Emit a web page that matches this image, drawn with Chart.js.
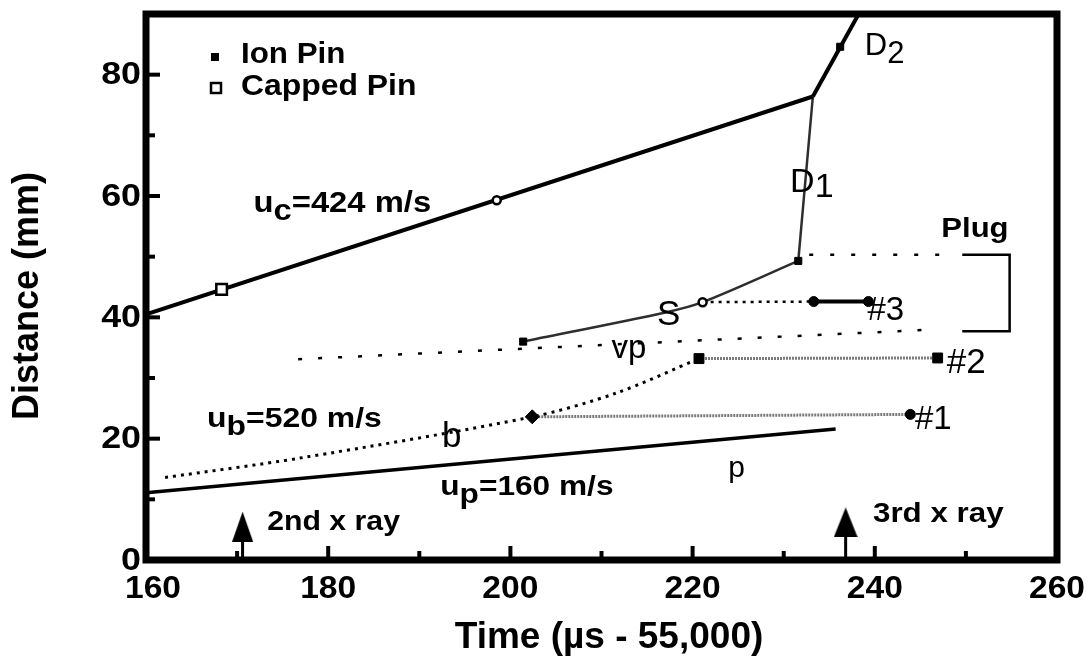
<!DOCTYPE html>
<html>
<head>
<meta charset="utf-8">
<script src="https://cdn.jsdelivr.net/npm/chart.js@4.4.1/dist/chart.umd.min.js"></script>
<style>
  html, body { margin: 0; padding: 0; background: #fff; }
  #wrap { width: 1090px; height: 660px; }
</style>
</head>
<body>
<div id="wrap"><canvas id="chart" width="1090" height="660"></canvas></div>
<script>
const ink = '#000';
const grey = '#7a7a7a';
const wavy = '#2e2e2e';
const FONT = '"Liberation Sans", Arial, Helvetica, sans-serif';

// axes
const xTicks = [160, 180, 200, 220, 240, 260];
const xMinor = [170, 190, 210, 230, 250];
const yTicks = [0, 20, 40, 60, 80];
const yMinor = [10, 30, 50, 70];

// trajectories (time in us - 55,000 ; distance in mm)
const ucTime = [160, 233.2];
const ucDist = [40.5, 76.4];
const d2Time = [233.2, 238.6];
const d2Dist = [76.4, 91.0];
const d1Time = [231.6, 233.2];
const d1Dist = [49.3, 76.4];
const sTime = [201.4, 217.0, 221.1, 231.6];
const sDist = [36.0, 40.8, 42.5, 49.3];
const bTime = [162.1, 176.9, 202.4, 211.6, 220.7];
const bDist = [13.6, 16.8, 23.6, 27.5, 33.2];
const pTime = [160, 235.7];
const pDist = [11.1, 21.6];
const vpTime = [176.7, 246.6];
const vpDist = [33.1, 38.0];
const plugTopTime = [232.8, 247.1];
const plugTopDist = [50.3, 50.3];
const probe1Time = [202.4, 243.9];
const probe1Dist = [23.6, 24.0];
const probe2Time = [220.7, 246.9];
const probe2Dist = [33.2, 33.3];
const probe3DotTime = [221.1, 233.3];
const probe3DotDist = [42.5, 42.6];
const probe3Time = [233.3, 239.3];
const probe3Dist = [42.6, 42.6];
const bracketTime = [249.6, 254.8, 254.8, 249.6];
const bracketDist = [50.3, 50.3, 37.7, 37.7];

// pins
const ionPinTime = [201.4, 231.6, 236.2];
const ionPinDist = [36.0, 49.3, 84.6];
const bigPinTime = [220.7, 246.9];
const bigPinDist = [33.2, 33.3];
const cappedPinTime = [168.3];
const cappedPinDist = [44.6];
const openDotTime = [198.5, 221.1];
const openDotDist = [59.3, 42.5];
const dotTime = [233.3, 239.3, 243.9];
const dotDist = [42.6, 42.6, 24.0];
const diamondTime = [202.4];
const diamondDist = [23.6];

// x-ray shots
const xrayTime = [170.6, 236.8];
const xrayTip = [5.5, 6.2];

const pts = (xs, ys) => xs.map((x, i) => ({ x, y: ys[i] }));

function path(xs, ys, color, width, dash, extra) {
    return Object.assign({
        data: pts(xs, ys), showLine: true, borderColor: color, borderWidth: width,
        borderDash: dash || [], pointRadius: 0, fill: false, tension: 0, order: 2
    }, extra || {});
}

function marks(xs, ys, style, r, filled) {
    return {
        data: pts(xs, ys), showLine: false, pointStyle: style, pointRadius: r,
        pointBackgroundColor: filled ? ink : '#fff', pointBorderColor: ink,
        pointBorderWidth: filled ? 1 : 2.5, order: 0
    };
}

function arrowHead(w, h) {
    const c = document.createElement('canvas');
    c.width = w; c.height = h;
    const g = c.getContext('2d');
    g.fillStyle = ink;
    g.beginPath(); g.moveTo(w / 2, 0); g.lineTo(w, h); g.lineTo(0, h); g.closePath(); g.fill();
    return c;
}
const heads = [arrowHead(21, 30), arrowHead(24, 30)];

// text annotations, anchored in data coordinates
const notes = [
    { parts: [['u'], ['c', 1], ['=424 m/s']], x: 171.8, y: 57.3, size: 29, bold: 1, sx: 1.13 },
    { parts: [['u'], ['b', 1], ['=520 m/s']], x: 166.7, y: 21.9, size: 28, bold: 1, sx: 1.14 },
    { parts: [['u'], ['p', 1], ['=160 m/s']], x: 192.3, y: 10.7, size: 28, bold: 1, sx: 1.13 },
    { parts: [['D'], ['1', 1]], x: 230.7, y: 60.7, size: 34, drop: 0.15 },
    { parts: [['D'], ['2', 1]], x: 238.9, y: 83.3, size: 31 },
    { parts: [['Plug']], x: 247.3, y: 53.3, size: 27, bold: 1, sx: 1.15 },
    { parts: [['S']], x: 216.1, y: 38.8, size: 35 },
    { parts: [['vp']], x: 211.1, y: 33.3, size: 33 },
    { parts: [['b']], x: 192.5, y: 18.6, size: 35 },
    { parts: [['p']], x: 223.9, y: 13.7, size: 30 },
    { parts: [['#3']], x: 239.2, y: 39.6, size: 33 },
    { parts: [['#2']], x: 247.9, y: 30.9, size: 35 },
    { parts: [['#1']], x: 244.4, y: 21.6, size: 33 },
    { parts: [['2nd x ray']], x: 173.3, y: 5.0, size: 27, bold: 1, sx: 1.12 },
    { parts: [['3rd x ray']], x: 239.8, y: 6.3, size: 27, bold: 1, sx: 1.16 }
];

function drawParts(ctx, parts, px, py, size, bold, sx, drop) {
    ctx.save();
    ctx.translate(px, py);
    ctx.scale(sx || 1, 1);
    ctx.font = (bold ? 'bold ' : '') + size + 'px ' + FONT;
    ctx.textAlign = 'left';
    ctx.textBaseline = 'alphabetic';
    let cx = 0;
    for (const [t, sub] of parts) {
        ctx.fillText(t, cx, sub ? size * (drop || 0.27) : 0);
        cx += ctx.measureText(t).width;
    }
    ctx.restore();
}

const framePlugin = {
    id: 'frame',
    afterDatasetsDraw(chart) {
        const { ctx, chartArea: a, scales: { x, y } } = chart;
        ctx.save();
        ctx.fillStyle = ink;
        ctx.strokeStyle = ink;

        // box
        ctx.lineWidth = 7;
        ctx.lineJoin = 'miter';
        ctx.strokeRect(a.left, a.top, a.right - a.left, a.bottom - a.top);

        // inward ticks
        ctx.lineCap = 'butt';
        const tick = (vals, len, w) => {
            ctx.lineWidth = w;
            vals.forEach(v => {
                const px = x.getPixelForValue(v);
                ctx.beginPath(); ctx.moveTo(px, a.bottom); ctx.lineTo(px, a.bottom - len); ctx.stroke();
            });
        };
        const ytick = (vals, len, w) => {
            ctx.lineWidth = w;
            vals.forEach(v => {
                const py = y.getPixelForValue(v);
                ctx.beginPath(); ctx.moveTo(a.left, py); ctx.lineTo(a.left + len, py); ctx.stroke();
            });
        };
        tick(xTicks.slice(1, -1), 14, 4);
        tick(xMinor, 9, 4);
        ytick(yTicks.slice(1), 14, 4);
        ytick(yMinor, 9, 4);

        // tick labels
        ctx.textBaseline = 'alphabetic';
        xTicks.forEach((v, i) => {
            const px = x.getPixelForValue(v) + (i === 0 ? 7 : 0);
            ctx.save();
            ctx.translate(px, a.bottom + 38);
            ctx.scale(1.05, 1);
            ctx.font = 'bold 32px ' + FONT;
            ctx.textAlign = 'center';
            ctx.fillText(String(v), 0, 0);
            ctx.restore();
        });
        yTicks.forEach(v => {
            ctx.save();
            ctx.translate(a.left - 5, y.getPixelForValue(v) + 1);
            ctx.scale(1.12, 1);
            ctx.font = 'bold 32px ' + FONT;
            ctx.textAlign = 'right';
            ctx.textBaseline = 'middle';
            ctx.fillText(String(v), 0, 0);
            ctx.restore();
        });

        // axis titles
        ctx.textAlign = 'center';
        ctx.textBaseline = 'alphabetic';
        ctx.font = 'bold 37px ' + FONT;
        ctx.fillText('Time (\u00b5s - 55,000)', 609, 648);
        ctx.save();
        ctx.translate(38, 296);
        ctx.rotate(-Math.PI / 2);
        ctx.font = 'bold 36px ' + FONT;
        ctx.fillText('Distance (mm)', 0, 0);
        ctx.restore();

        // key
        ctx.fillRect(a.left + 65, a.top + 39, 8, 8);
        ctx.lineWidth = 2.5;
        ctx.strokeRect(a.left + 65, a.top + 69, 10, 10);
        drawParts(ctx, [['Ion Pin']], a.left + 95, a.top + 49, 29, 1, 1.08);
        drawParts(ctx, [['Capped Pin']], a.left + 95, a.top + 81, 29, 1, 1.1);

        // annotations
        notes.forEach(n => drawParts(ctx, n.parts, x.getPixelForValue(n.x), y.getPixelForValue(n.y),
            n.size, n.bold, n.sx, n.drop));
        ctx.restore();
    }
};

const datasets = [
    marks(ionPinTime, ionPinDist, 'rect', 5, true),
    marks(bigPinTime, bigPinDist, 'rect', 7, true),
    marks(cappedPinTime, cappedPinDist, 'rect', 7.5, false),
    marks(openDotTime, openDotDist, 'circle', 4, false),
    marks(dotTime, dotDist, 'circle', 5, true),
    marks(diamondTime, diamondDist, 'rectRot', 7, true),

    path(ucTime, ucDist, ink, 4),
    path(d2Time, d2Dist, ink, 4),
    path(pTime, pDist, ink, 3.5),
    path(d1Time, d1Dist, wavy, 2.5),
    path(sTime, sDist, wavy, 2.5, null, { tension: 0.3 }),
    path(bTime, bDist, ink, 3, [3, 5], { tension: 0.3 }),
    path(vpTime, vpDist, ink, 2.5, [4, 16]),
    path(plugTopTime, plugTopDist, ink, 2.5, [4, 17]),
    path(probe3DotTime, probe3DotDist, ink, 2.5, [3, 5]),
    path(probe3Time, probe3Dist, ink, 4),
    path(probe1Time, probe1Dist, grey, 3, [2, 1]),
    path(probe2Time, probe2Dist, grey, 3, [2, 1]),
    path(bracketTime, bracketDist, ink, 2.5),
    ...xrayTime.map((t, i) => path([t, t], [0, xrayTip[i]], ink, 3, null,
        { pointRadius: [0, 5], pointStyle: ['circle', heads[i]], order: 1 }))
];

new Chart(document.getElementById('chart'), {
    type: 'scatter',
    data: { datasets },
    options: {
        responsive: false,
        animation: false,
        events: [],
        layout: { padding: { left: 146, right: 33, top: 14, bottom: 100 } },
        scales: {
            x: { type: 'linear', min: 160, max: 260, display: false },
            y: { type: 'linear', min: 0, max: 90, display: false }
        },
        plugins: { legend: { display: false }, tooltip: { enabled: false } }
    },
    plugins: [framePlugin]
});
</script>
</body>
</html>
